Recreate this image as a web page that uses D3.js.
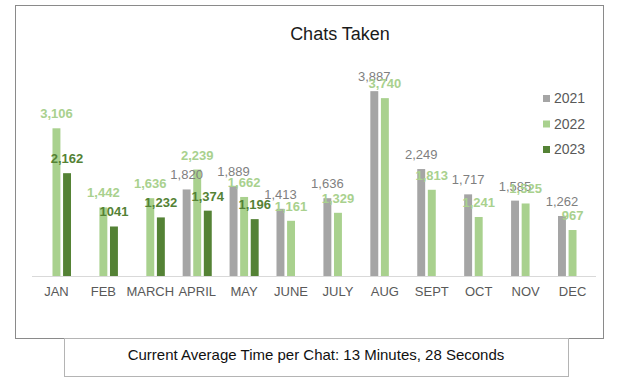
<!DOCTYPE html>
<html>
<head>
<meta charset="utf-8">
<script src="https://cdn.jsdelivr.net/npm/d3@7"></script>
<style>
  body { margin: 0; background: #fff; }
  svg { display: block; font-family: "Liberation Sans", Arial, sans-serif; }
</style>
</head>
<body>
<svg width="619" height="387"></svg>
<script>
'use strict';

// the data
var months = ['JAN', 'FEB', 'MARCH', 'APRIL', 'MAY', 'JUNE', 'JULY', 'AUG', 'SEPT', 'OCT', 'NOV', 'DEC'];
var years = ['2021', '2022', '2023'];
var values2021 = [null, null, null, 1820, 1889, 1413, 1636, 3887, 2249, 1717, 1585, 1262];
var values2022 = [3106, 1442, 1636, 2239, 1662, 1161, 1329, 3740, 1813, 1241, 1525, 967];
var values2023 = [2162, 1041, 1232, 1374, 1196, null, null, null, null, null, null, null];
var labels2023 = ['2,162', '1041', '1,232', '1,374', '1,196']; // as printed on the chart
var title = 'Chats Taken';
var footnote = 'Current Average Time per Chat: 13 Minutes, 28 Seconds';

var colors = { '2021': '#a5a5a5', '2022': '#a9d18e', '2023': '#548235' };
var labelColors = { '2021': '#7f7f7f', '2022': '#a9d18e', '2023': '#548235' };
var labelWeight = { '2021': 'normal', '2022': 'bold', '2023': 'bold' };

var svg = d3.select('svg');

// chart frame + footer box
svg.append('rect').attr('x', 15.5).attr('y', 5.5).attr('width', 588).attr('height', 333)
  .attr('fill', 'none').attr('stroke', '#8a8a8a').attr('stroke-width', 1);
svg.append('rect').attr('x', 64.5).attr('y', 338.5).attr('width', 504).attr('height', 38)
  .attr('fill', '#fff').attr('stroke', '#b4b4b4').attr('stroke-width', 1);
svg.append('text').attr('x', 316).attr('y', 359.5).attr('text-anchor', 'middle')
  .attr('font-size', 15).attr('fill', '#111').text(footnote);

svg.append('text').attr('x', 340).attr('y', 40).attr('text-anchor', 'middle')
  .attr('font-size', 18).attr('fill', '#1a1a1a').text(title);

// scales
var x0 = d3.scaleBand().domain(months).range([33, 596]).paddingInner(0.38).paddingOuter(0.19);
var x1 = d3.scaleBand().domain(years).range([0, x0.bandwidth()]).paddingInner(0.25);
var y = d3.scaleLinear().domain([0, 4500]).range([276, 62]);

// flatten to one row per bar
var rows = [];
months.forEach(function(m, i){
  [values2021, values2022, values2023].forEach(function(list, k){
    if(list[i] != null){
      var yr = years[k];
      var lab = yr === '2023' ? labels2023[i] : d3.format(',')(list[i]);
      rows.push({month: m, year: yr, value: list[i], label: lab});
    }
  });
});

svg.selectAll('rect.bar').data(rows).enter().append('rect')
  .attr('class', 'bar')
  .attr('x', function(d){ return x0(d.month) + x1(d.year); })
  .attr('y', function(d){ return y(d.value); })
  .attr('width', x1.bandwidth())
  .attr('height', function(d){ return y(0) - y(d.value); })
  .attr('fill', function(d){ return colors[d.year]; });

// baseline
svg.append('line').attr('x1', 32).attr('x2', 596).attr('y1', 276.5).attr('y2', 276.5)
  .attr('stroke', '#d9d9d9').attr('stroke-width', 1);

// x axis labels
var xAxis = d3.axisBottom(x0).tickSize(0).tickPadding(0);
var gx = svg.append('g').attr('transform', 'translate(0,287)').call(xAxis);
gx.select('.domain').remove();
gx.selectAll('text').attr('font-size', 13).attr('fill', '#595959')
  .attr('font-family', '"Liberation Sans", Arial, sans-serif');

// data labels (drawn in year order so later series overlap earlier, as in the original)
svg.selectAll('text.lbl').data(rows).enter().append('text')
  .attr('class', 'lbl')
  .attr('x', function(d){ return x0(d.month) + x1(d.year) + x1.bandwidth() / 2; })
  .attr('y', function(d){ return y(d.value) - 10; })
  .attr('text-anchor', 'middle')
  .attr('font-size', 13)
  .attr('font-weight', function(d){ return labelWeight[d.year]; })
  .attr('fill', function(d){ return labelColors[d.year]; })
  .text(function(d){ return d.label; });

// legend
var leg = svg.selectAll('g.leg').data(years).enter().append('g')
  .attr('class', 'leg')
  .attr('transform', function(d, i){ return 'translate(543,' + (95 + i * 25.5) + ')'; });
leg.append('rect').attr('width', 7).attr('height', 7)
  .attr('fill', function(d){ return colors[d]; });
leg.append('text').attr('x', 11).attr('y', 8).attr('font-size', 14).attr('fill', '#595959')
  .text(function(d){ return d; });
</script>
</body>
</html>
